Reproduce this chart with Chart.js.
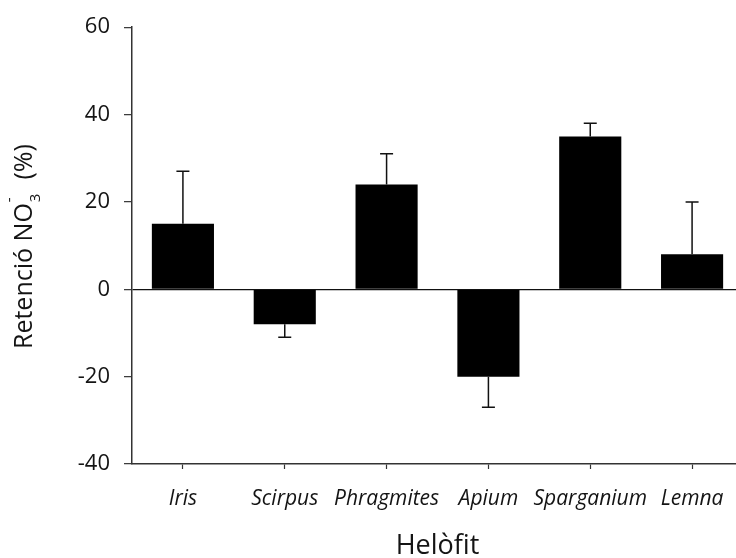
<!DOCTYPE html>
<html>
<head>
<meta charset="utf-8">
<script src="https://cdn.jsdelivr.net/npm/chart.js@4"></script>
<style>
  html, body { margin: 0; padding: 0; background: #fff; overflow: hidden; }
  #wrap { width: 745px; height: 558px; }
</style>
</head>
<body>
<div id="wrap"><canvas id="c" width="745" height="558"></canvas></div>
<script>
const categories = ["Iris", "Scirpus", "Phragmites", "Apium", "Sparganium", "Lemna"];
const retention = [15, -8, 24, -20, 35, 8];
const errors = [12, 3, 7, 7, 3, 12];
const yTicks = [-40, -20, 0, 20, 40, 60];
const xTitle = "Helòfit";

const FONT = "'Open Sans', 'DejaVu Sans', sans-serif";
const TXT = '#141414';

const errorBars = {
  id: 'errorBars',
  afterDatasetsDraw(chart) {
    const ctx = chart.ctx;
    const meta = chart.getDatasetMeta(0);
    const ys = chart.scales.y;
    ctx.save();
    ctx.strokeStyle = '#111';
    ctx.lineWidth = 1.5;
    meta.data.forEach((el, i) => {
      const v = retention[i];
      const e = errors[i];
      const s = v >= 0 ? 1 : -1;
      const y0 = ys.getPixelForValue(v);
      const y1 = ys.getPixelForValue(v + s * e);
      ctx.beginPath();
      ctx.moveTo(el.x, y0);
      ctx.lineTo(el.x, y1);
      ctx.moveTo(el.x - 6.5, y1);
      ctx.lineTo(el.x + 6.5, y1);
      ctx.stroke();
    });
    ctx.restore();
  }
};

const yTitle = {
  id: 'yTitle',
  afterDraw(chart) {
    const ctx = chart.ctx;
    const ca = chart.chartArea;
    const cy = (ca.top + ca.bottom) / 2 + 1;
    const cx = 25;
    const big = "25px " + FONT;
    const small = "15px " + FONT;
    const p1 = "Retenció NO";
    const p3 = "  (%)";
    ctx.save();
    ctx.fillStyle = TXT;
    ctx.translate(cx, cy);
    ctx.rotate(-Math.PI / 2);
    ctx.textBaseline = 'middle';
    ctx.textAlign = 'left';
    ctx.font = big;
    const w1 = ctx.measureText(p1).width;
    const w3 = ctx.measureText(p3).width;
    ctx.font = small;
    const w2 = Math.max(ctx.measureText("3").width, ctx.measureText("-").width) + 2;
    const total = w1 + w2 + w3;
    let x = -total / 2;
    ctx.font = big;
    ctx.fillText(p1, x, 0);
    x += w1;
    ctx.font = small;
    ctx.fillText("3", x + 1, 11);
    ctx.fillText("-", x + 1, -15);
    x += w2;
    ctx.font = big;
    ctx.fillText(p3, x, 0);
    ctx.restore();
  }
};

new Chart(document.getElementById('c'), {
  type: 'bar',
  data: {
    labels: categories,
    datasets: [{
      data: retention,
      backgroundColor: '#000',
      borderWidth: 0,
      barPercentage: 0.61,
      categoryPercentage: 1.0
    }]
  },
  options: {
    responsive: false,
    animation: false,
    events: [],
    layout: { padding: { top: 25, right: 2, left: 0, bottom: 0 } },
    plugins: {
      legend: { display: false },
      tooltip: { enabled: false },
      title: { display: false }
    },
    scales: {
      x: {
        offset: true,
        grid: {
          offset: false,
          drawOnChartArea: false,
          drawTicks: true,
          tickLength: 5,
          tickColor: '#333',
          tickWidth: 1.2
        },
        border: { display: true, color: '#333', width: 1.5 },
        ticks: {
          color: TXT,
          font: { family: FONT, size: 21, style: 'italic' },
          padding: 17,
          maxRotation: 0,
          autoSkip: false
        },
        title: {
          display: true,
          text: xTitle,
          color: TXT,
          font: { family: FONT, size: 27, lineHeight: 0.85 },
          padding: { top: 0, bottom: 0 }
        },
        afterFit(scale) { scale.height = 94; }
      },
      y: {
        min: -40,
        max: 60,
        afterBuildTicks(scale) { scale.ticks = yTicks.map(v => ({ value: v })); },
        grid: {
          drawOnChartArea: true,
          drawTicks: true,
          tickLength: 8,
          tickColor: '#333',
          tickWidth: 1.2,
          lineWidth: 1.3,
          color: (c) => (c.tick && c.tick.value === 0) ? '#111' : 'rgba(0,0,0,0)'
        },
        border: { display: true, color: '#333', width: 1.5 },
        ticks: {
          color: TXT,
          font: { family: FONT, size: 22 },
          padding: 14
        },
        title: { display: false },
        afterFit(scale) { scale.width = 132; }
      }
    }
  },
  plugins: [errorBars, yTitle]
});
</script>
</body>
</html>
